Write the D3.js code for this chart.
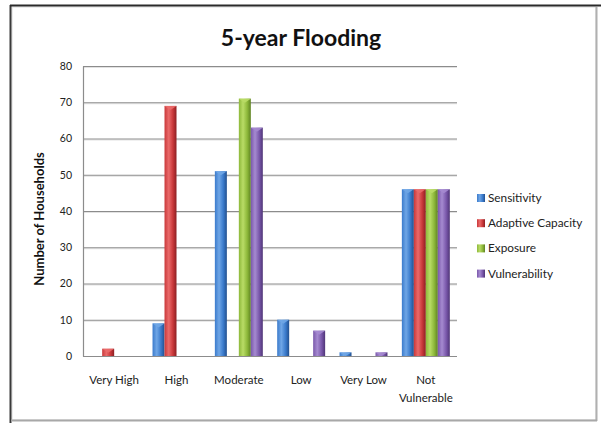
<!DOCTYPE html>
<html>
<head>
<meta charset="utf-8">
<script src="https://cdn.jsdelivr.net/npm/d3@7/dist/d3.min.js"></script>
<style>
  html, body { margin: 0; padding: 0; background: #fff; }
  svg { display: block; }
  text { font-family: Lato, "Open Sans", sans-serif; }
</style>
</head>
<body>
<svg id="chart" width="601" height="423"></svg>
<script>
// Household counts by vulnerability class, 5-year flood scenario
const categories = ["Very High", "High", "Moderate", "Low", "Very Low", "Not Vulnerable"];
const seriesNames = ["Sensitivity", "Adaptive Capacity", "Exposure", "Vulnerability"];
const sensitivity      = [0, 9, 51, 10, 1, 46];
const adaptiveCapacity = [2, 69, 0, 0, 0, 46];
const exposure         = [0, 0, 71, 0, 0, 46];
const vulnerability    = [0, 0, 63, 7, 1, 46];
const yTicks = [0, 10, 20, 30, 40, 50, 60, 70, 80];

const seriesValues = [sensitivity, adaptiveCapacity, exposure, vulnerability];
const colors = [
  { light: "#6fa6e6", mid: "#3b7bcc", dark: "#22508f" },
  { light: "#ea6a6a", mid: "#c9383a", dark: "#8c1f22" },
  { light: "#b9dc66", mid: "#8db83a", dark: "#5e8222" },
  { light: "#a58ad0", mid: "#7a58ab", dark: "#4f3577" }
];

const svg = d3.select("#chart");
const W = 601, H = 423;

// chart frame: dark top/left edge, light right/bottom edge
svg.append("rect").attr("x", 12).attr("y", 7).attr("width", 584).attr("height", 413)
  .attr("fill", "none").attr("stroke", "#e6e6e6").attr("stroke-width", 1.5);
svg.append("line").attr("x1", 10.5).attr("x2", 10.5).attr("y1", 5).attr("y2", H)
  .attr("stroke", "#3a3a3a").attr("stroke-width", 2);
svg.append("line").attr("x1", 10).attr("x2", W).attr("y1", 5.5).attr("y2", 5.5)
  .attr("stroke", "#2a2a2a").attr("stroke-width", 2);
svg.append("line").attr("x1", 596.5).attr("x2", 596.5).attr("y1", 7).attr("y2", 421)
  .attr("stroke", "#b0b0b0").attr("stroke-width", 2);
svg.append("line").attr("x1", 11).attr("x2", 597).attr("y1", 420.5).attr("y2", 420.5)
  .attr("stroke", "#a8a8a8").attr("stroke-width", 2);

const plot = { left: 83, right: 457, top: 66, bottom: 356 };

const x0 = d3.scaleBand().domain(categories).range([plot.left, plot.right]).paddingInner(0).paddingOuter(0);
const x1 = d3.scaleBand().domain(seriesNames).range([0, x0.bandwidth()]).paddingInner(0).paddingOuter(0.6);
const y = d3.scaleLinear().domain([0, 80]).range([plot.bottom, plot.top]);

// gradients giving the bars a rounded, cylindrical look
const defs = svg.append("defs");
colors.forEach((c, i) => {
  const g = defs.append("linearGradient").attr("id", "grad" + i)
    .attr("x1", "0%").attr("x2", "100%").attr("y1", "0%").attr("y2", "0%");
  g.append("stop").attr("offset", "0%").attr("stop-color", c.mid);
  g.append("stop").attr("offset", "35%").attr("stop-color", c.light);
  g.append("stop").attr("offset", "70%").attr("stop-color", c.mid);
  g.append("stop").attr("offset", "100%").attr("stop-color", c.dark);
});

// gridlines
const grid = svg.append("g");
grid.selectAll("line.shadow").data(yTicks.filter(t => t > 0)).join("line")
  .attr("x1", plot.left).attr("x2", plot.right)
  .attr("y1", d => y(d) + 1.5).attr("y2", d => y(d) + 1.5)
  .attr("stroke", "#e2e2e2").attr("stroke-width", 1);
grid.selectAll("line.main").data(yTicks.filter(t => t > 0)).join("line")
  .attr("x1", plot.left).attr("x2", plot.right)
  .attr("y1", d => y(d) + 0.5).attr("y2", d => y(d) + 0.5)
  .attr("stroke", "#8c8c8c").attr("stroke-width", 1);

// y axis
const yAxis = svg.append("g").attr("transform", `translate(${plot.left},0)`)
  .call(d3.axisLeft(y).tickValues(yTicks).tickSize(0).tickPadding(11));
yAxis.select(".domain").attr("stroke", "#8c8c8c").attr("stroke-width", 1.2);
yAxis.selectAll("text").attr("font-size", 10.5).attr("fill", "#222");

// x axis baseline
svg.append("line").attr("x1", plot.left).attr("x2", plot.right)
  .attr("y1", plot.bottom + 0.5).attr("y2", plot.bottom + 0.5)
  .attr("stroke", "#8c8c8c").attr("stroke-width", 1.2);

// bars
const groups = svg.append("g").selectAll("g").data(categories).join("g")
  .attr("transform", d => `translate(${x0(d)},0)`);
groups.each(function(cat, ci) {
  const g = d3.select(this);
  seriesNames.forEach((s, si) => {
    const v = seriesValues[si][ci];
    if (!v) return;
    const bx = x1(s), bw = x1.bandwidth();
    const top = y(v), h = plot.bottom - top;
    g.append("rect").attr("x", bx).attr("y", top).attr("width", bw).attr("height", h)
      .attr("fill", `url(#grad${si})`);
    // small pointed cap at the top of each bar
    const capH = Math.min(4, h);
    g.append("path")
      .attr("d", `M${bx},${top}L${bx + bw},${top}L${bx + bw / 2},${top + capH}Z`)
      .attr("fill", colors[si].light).attr("opacity", 0.9);
  });
});

// category labels
const xl = svg.append("g");
categories.forEach(c => {
  const cx = x0(c) + x0.bandwidth() / 2;
  const words = c === "Not Vulnerable" ? ["Not", "Vulnerable"] : [c];
  words.forEach((w, i) => {
    xl.append("text").attr("x", cx).attr("y", 384 + i * 18)
      .attr("text-anchor", "middle").attr("font-size", 11.5).attr("fill", "#222").text(w);
  });
});

// title
svg.append("text").attr("x", 301).attr("y", 46).attr("text-anchor", "middle")
  .attr("font-size", 23).attr("font-weight", "bold").attr("fill", "#111").text("5-year Flooding");

// y axis title
svg.append("text").attr("transform", `translate(44,${(plot.top + plot.bottom) / 2 + 8}) rotate(-90)`)
  .attr("text-anchor", "middle").attr("font-size", 13).attr("font-weight", "bold").attr("fill", "#111")
  .text("Number of Households");

// legend
const legend = svg.append("g");
seriesNames.forEach((s, i) => {
  const ly = 198 + i * 25.2;
  legend.append("rect").attr("x", 477).attr("y", ly - 4).attr("width", 8).attr("height", 8)
    .attr("fill", `url(#grad${i})`);
  legend.append("text").attr("x", 488).attr("y", ly + 4).attr("font-size", 11.8)
    .attr("fill", "#222").text(s);
});
</script>
</body>
</html>
